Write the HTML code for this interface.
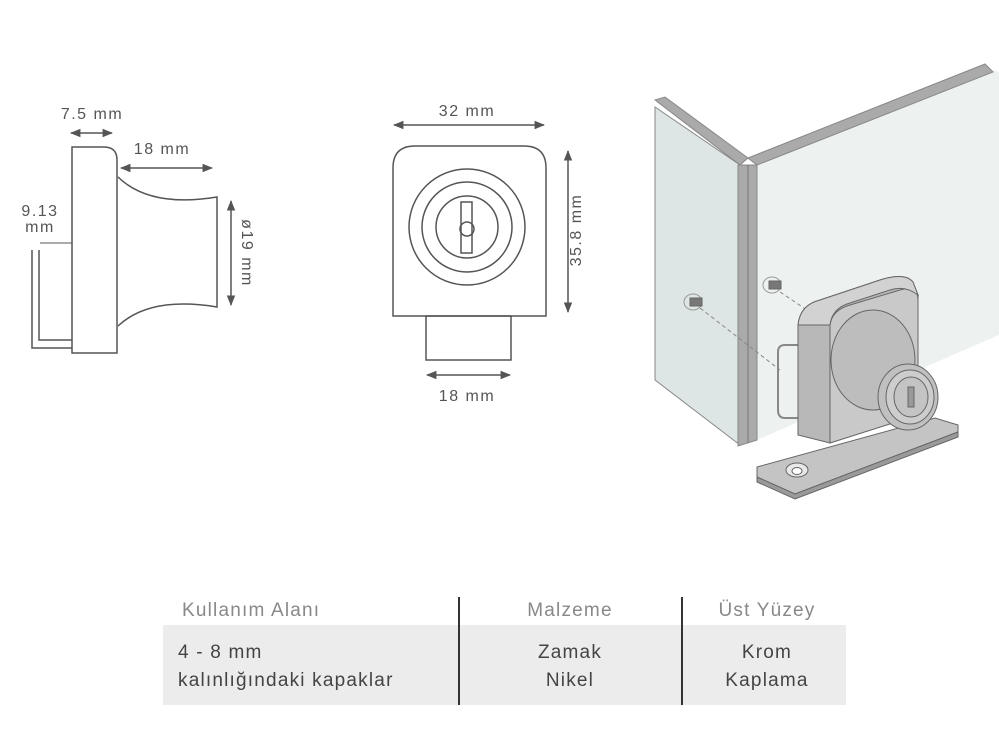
<!DOCTYPE html>
<html><head><meta charset="utf-8"><style>
html,body{margin:0;padding:0;background:#fff;}
body{width:999px;height:750px;position:relative;overflow:hidden;font-family:"Liberation Sans",sans-serif;}
svg{position:absolute;left:0;top:0;}
</style></head><body>
<svg width="999" height="750" viewBox="0 0 999 750" xmlns="http://www.w3.org/2000/svg">
<defs>
<marker id="a" viewBox="0 0 10 10" refX="9" refY="5" markerWidth="7" markerHeight="7" orient="auto-start-reverse"><path d="M0,1 L10,5 L0,9 Z" fill="#555"/></marker>
</defs>
<g font-family="Liberation Sans, sans-serif" font-size="16" fill="#555" letter-spacing="1.5">
<!-- Left drawing -->
<g fill="none" stroke="#555" stroke-width="1.5">
<path d="M72,147 L104,147 Q117,147 117,160 L117,353 L72,353 Z"/>
<path d="M118,177 Q150,208 217,197 L217,307 Q150,296 118,326"/>
<path d="M32,250 L32,348 L72,348 M39,250 L39,340 L72,340"/>
<line x1="40" y1="243" x2="72" y2="243" stroke-width="1"/>
<line x1="71" y1="133" x2="112" y2="133" marker-start="url(#a)" marker-end="url(#a)"/>
<line x1="121" y1="168" x2="212" y2="168" marker-start="url(#a)" marker-end="url(#a)"/>
<line x1="231" y1="201" x2="231" y2="305" marker-start="url(#a)" marker-end="url(#a)"/>
</g>
<text x="92" y="119" text-anchor="middle">7.5 mm</text>
<text x="162" y="154" text-anchor="middle">18 mm</text>
<text x="40" y="216" text-anchor="middle">9.13</text>
<text x="40" y="232" text-anchor="middle">mm</text>
<text transform="translate(242,253) rotate(90)" text-anchor="middle">ø19 mm</text>
<!-- Middle drawing -->
<g fill="none" stroke="#555" stroke-width="1.5">
<path d="M393,316 L393,168 Q393,146 415,146 L524,146 Q546,146 546,168 L546,316 Z"/>
<circle cx="467" cy="227" r="58"/>
<circle cx="467" cy="227" r="45"/>
<circle cx="467" cy="227" r="31"/>
<rect x="461" y="202" width="11" height="51"/>
<circle cx="467" cy="229" r="7"/>
<rect x="426" y="316" width="85" height="44"/>
<line x1="394" y1="125" x2="544" y2="125" marker-start="url(#a)" marker-end="url(#a)"/>
<line x1="568" y1="151" x2="568" y2="312" marker-start="url(#a)" marker-end="url(#a)"/>
<line x1="427" y1="375" x2="510" y2="375" marker-start="url(#a)" marker-end="url(#a)"/>
</g>
<text x="467" y="116" text-anchor="middle">32 mm</text>
<text transform="translate(581,230) rotate(-90)" text-anchor="middle">35.8 mm</text>
<text x="467" y="401" text-anchor="middle">18 mm</text>
</g>
<!-- Right illustration -->
<g stroke="#888" stroke-width="1">
<polygon points="655,107 740,165 740,445 655,380" fill="#dde6e4"/>
<polygon points="757,165 993,70 999,72 999,335 757,440" fill="#edf2f1" stroke="none"/>
<polygon points="655,100 665,97 748,158 740,165" fill="#aaa"/>
<polygon points="748,158 985,64 993,72 757,165" fill="#aaa"/>
<polygon points="738,165 757,165 757,440 738,446" fill="#aaa"/>
<line x1="748" y1="165" x2="748" y2="443" stroke="#777"/>
</g>
<g stroke="#888" stroke-width="1" fill="none" stroke-dasharray="4,3">
<line x1="700" y1="308" x2="780" y2="370"/>
<line x1="780" y1="292" x2="810" y2="312"/>
</g>
<g stroke="#666" stroke-width="1">
<ellipse cx="693" cy="302" rx="9" ry="8" fill="none" stroke="#999"/>
<rect x="690" y="298" width="12" height="8" fill="#777"/>
<ellipse cx="772" cy="285" rx="9" ry="8" fill="none" stroke="#999"/>
<rect x="769" y="281" width="12" height="8" fill="#777"/>
<path d="M785,345 L800,345 L800,418 L785,418 Q778,418 778,410 L778,352 Q778,345 785,345 Z" fill="none" stroke="#888" stroke-width="2"/>
<polygon points="757,467 935,418 958,425 958,432 795,494 757,477" fill="#c4c4c4"/>
<polygon points="757,477 795,494 958,432 958,437 795,499 757,482" fill="#9a9a9a"/>
<ellipse cx="797" cy="470" rx="11" ry="7" fill="#e8e8e8"/>
<ellipse cx="797" cy="471" rx="5" ry="3.5" fill="#fff"/>
<path d="M798,435 L798,325 Q800,305 820,300 L880,280 Q905,272 913,282 L918,295 L918,415 L830,443 Z" fill="#b8b8b8"/>
<path d="M830,443 L830,325 Q832,310 850,305 L900,290 Q918,285 918,300 L918,415 Z" fill="#c9c9c9"/>
<path d="M798,325 Q800,305 820,300 L880,280 Q905,272 913,282 L918,295 Q905,285 890,290 L850,303 Q832,308 830,325 Z" fill="#d2d2d2"/>
<ellipse cx="873" cy="360" rx="42" ry="50" fill="#bdbdbd"/>
<ellipse cx="908" cy="397" rx="30" ry="33" fill="#c0c0c0"/>
<ellipse cx="910" cy="397" rx="24" ry="27" fill="#cdcdcd"/>
<ellipse cx="911" cy="397" rx="17" ry="20" fill="#c4c4c4"/>
<rect x="908" y="387" width="6" height="20" fill="#999"/>
</g>
<!-- Table -->
<rect x="163" y="625" width="683" height="80" fill="#ececec"/>
<line x1="459" y1="597" x2="459" y2="705" stroke="#333" stroke-width="2"/>
<line x1="682" y1="597" x2="682" y2="705" stroke="#333" stroke-width="2"/>
<g font-family="Liberation Sans, sans-serif" font-size="19" letter-spacing="1.2">
<text x="182" y="616" fill="#888">Kullanım Alanı</text>
<text x="570" y="616" fill="#888" text-anchor="middle">Malzeme</text>
<text x="767" y="616" fill="#888" text-anchor="middle">Üst Yüzey</text>
<text x="178" y="658" fill="#444">4 - 8 mm</text>
<text x="178" y="686" fill="#444">kalınlığındaki kapaklar</text>
<text x="570" y="658" fill="#444" text-anchor="middle">Zamak</text>
<text x="570" y="686" fill="#444" text-anchor="middle">Nikel</text>
<text x="767" y="658" fill="#444" text-anchor="middle">Krom</text>
<text x="767" y="686" fill="#444" text-anchor="middle">Kaplama</text>
</g>
</svg>
</body></html>
